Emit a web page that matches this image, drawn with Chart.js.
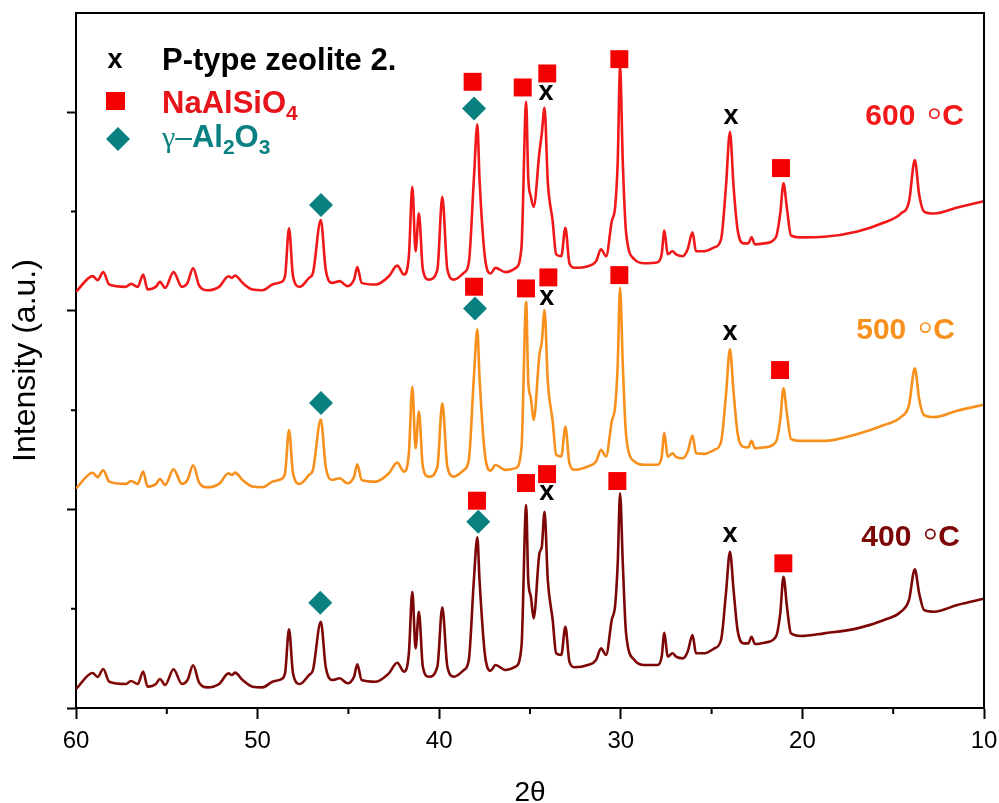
<!DOCTYPE html>
<html>
<head>
<meta charset="utf-8">
<title>XRD patterns</title>
<script src="https://cdn.jsdelivr.net/npm/chart.js@4.4.1/dist/chart.umd.min.js"></script>
<style>
  html, body { margin: 0; padding: 0; background: #fff; }
  canvas { display: block; }
</style>
</head>
<body>
<canvas id="xrd" width="999" height="803"></canvas>
<script>
// 2-theta positions shared by the three patterns (peaks, shoulders and valleys)
const twoTheta = [
  60.00, 59.08, 58.81, 58.50, 58.17, 57.25, 56.97, 56.60, 56.30, 56.06,
  55.60, 55.38, 55.09, 54.63, 54.17, 53.86, 53.55, 53.22, 52.76, 52.12,
  51.60, 51.42, 51.24, 50.83, 50.28, 49.73, 49.18, 48.72, 48.49, 48.27,
  48.05, 47.68, 47.17, 46.95, 46.52, 46.25, 45.88, 45.48, 45.06, 44.69,
  44.51, 44.27, 43.50, 42.77, 42.31, 41.94, 41.67, 41.48, 41.30, 41.12,
  40.90, 40.57, 40.10, 39.83, 39.55, 39.19, 38.64, 38.37, 38.09, 37.90,
  37.78, 37.49, 37.17, 36.90, 36.35, 35.80, 35.47, 35.21, 35.10, 34.95,
  34.80, 34.48, 34.35, 34.20, 34.02, 33.75, 33.56, 33.28, 33.05, 32.83,
  32.55, 31.82, 31.36, 31.09, 30.81, 30.50, 30.31, 30.17, 30.04, 29.89,
  29.71, 29.25, 28.70, 27.97, 27.75, 27.60, 27.42, 27.15, 26.96, 26.59,
  26.32, 26.05, 25.86, 25.40, 24.85, 24.48, 24.21, 23.99, 23.79, 23.57,
  23.24, 22.98, 22.80, 22.61, 22.10, 21.46, 21.22, 21.04, 20.85, 20.63,
  20.08, 18.80, 16.97, 15.50, 14.58, 14.13, 13.81, 13.57, 13.30, 12.75,
  11.47, 10.00
];

const int400 = [
   191,  352,  312,  393,  265,  242,  272,  242,  366,  215,
   242,  292,  232,  390,  242,  282,  430,  255,  208,  242,
   349,  332,  356,  282,  215,  208,  265,  289,  349,  792,
   349,  242,  332,  383,  869,  416,  282,  299,  249,  315,
   440,  282,  265,  349,  456,  366,  551, 1171,  601,  970,
   416,  315,  416, 1014,  416,  315,  383,  483, 1289, 1719,
  1289,  551,  376,  433,  383,  416,  617, 2044, 1300, 1120,
   903, 1558, 1624, 1977, 1289,  886,  551,  534,  819,  466,
   410,  433,  483,  601,  534,  886, 1037, 1457, 2162, 1457,
   752,  483,  433,  433,  517,  758,  517,  551,  517,  500,
   567,  735,  551,  551,  601,  685, 1155, 1574, 1188,  785,
   651,  651,  718,  644,  658,  718,  953, 1322, 1020,  752,
   725,  752,  802,  886,  970, 1088, 1397, 1155,  987,  970,
  1037, 1100
];

const int500 = [
  2212, 2370, 2325, 2395, 2280, 2257, 2287, 2257, 2381, 2230,
  2257, 2307, 2247, 2405, 2257, 2297, 2445, 2270, 2223, 2257,
  2364, 2347, 2371, 2297, 2230, 2223, 2280, 2304, 2364, 2800,
  2364, 2257, 2347, 2398, 2905, 2431, 2297, 2314, 2264, 2330,
  2455, 2297, 2280, 2364, 2471, 2381, 2566, 3235, 2616, 2985,
  2431, 2330, 2431, 3068, 2431, 2330, 2398, 2498, 3330, 3813,
  3330, 2566, 2391, 2448, 2398, 2416, 2617, 4092, 3300, 3120,
  2900, 3560, 3689, 4008, 3289, 2886, 2551, 2534, 2833, 2466,
  2400, 2433, 2483, 2601, 2534, 2886, 3037, 3460, 4236, 3460,
  2752, 2483, 2450, 2450, 2530, 2770, 2530, 2565, 2530, 2515,
  2580, 2745, 2565, 2560, 2600, 2680, 3150, 3612, 3180, 2770,
  2630, 2625, 2690, 2615, 2625, 2680, 2900, 3219, 2960, 2710,
  2690, 2690, 2760, 2850, 2930, 3050, 3421, 3110, 2950, 2930,
  2995, 3055
];

const int600 = [
  4192, 4350, 4310, 4390, 4265, 4242, 4272, 4242, 4366, 4215,
  4242, 4292, 4232, 4390, 4242, 4282, 4430, 4255, 4208, 4242,
  4349, 4332, 4356, 4282, 4215, 4208, 4265, 4289, 4349, 4831,
  4349, 4242, 4332, 4383, 4914, 4416, 4282, 4299, 4249, 4315,
  4440, 4282, 4265, 4349, 4456, 4366, 4551, 5250, 4601, 4982,
  4416, 4315, 4416, 5149, 4416, 4315, 4383, 4483, 5330, 5878,
  5330, 4551, 4376, 4433, 4390, 4430, 4640, 6106, 5350, 5150,
  5048, 5600, 5787, 6045, 5300, 4900, 4570, 4550, 4837, 4480,
  4434, 4450, 4500, 4620, 4550, 4900, 5050, 5500, 6450, 5500,
  4790, 4520, 4480, 4490, 4570, 4810, 4570, 4600, 4570, 4550,
  4620, 4790, 4600, 4600, 4640, 4720, 5250, 5803, 5250, 4820,
  4680, 4680, 4740, 4670, 4680, 4740, 4980, 5284, 5030, 4760,
  4740, 4746, 4800, 4890, 4980, 5100, 5518, 5170, 5000, 4980,
  5040, 5105
];

// phase markers (600, 500, 400 °C rows)
const naAlSiO4Theta = [38.16, 35.40, 34.05, 30.08, 21.18, 38.08, 35.22, 33.99, 30.08, 21.23, 37.92, 35.22, 34.06, 30.19, 21.05];
const naAlSiO4Y     = [6307, 6250, 6391, 6535, 5438, 4243, 4226, 4337, 4360, 3404, 2088, 2266, 2356, 2286, 1457];
const aluminaTheta  = [38.08, 46.51, 38.03, 46.51, 37.85, 46.55];
const aluminaY      = [6039, 5065, 4025, 3071, 1876, 1060];
const zeoliteTheta  = [34.12, 23.93, 34.08, 23.99, 34.08, 23.99];
const zeoliteY      = [6190, 5951, 4126, 3776, 2162, 1742];

// temperature labels, right edge anchored
const tempText  = ['600', '500', '400'];
const tempTheta = [11.10, 11.60, 11.32];
const tempY     = [5951, 3796, 1717];

const xTicks = [60, 50, 40, 30, 20, 10];
const xMinorTicks = [55, 45, 35, 25, 15];
const yTicks = [0, 2000, 4000, 6000];
const yMinorTicks = [1000, 3000, 5000];

const RED = '#f01818';
const ORANGE = '#f7901c';
const DARKRED = '#7d0606';
const SQUARE_RED = '#f50000';
const TEAL = '#0a8080';
const SANS = '"Liberation Sans", Arial, sans-serif';

const toPoints = (xs, ys) => xs.map((t, i) => ({ x: t, y: ys[i] }));

function drawParts(ctx, parts, x, y) {
    parts.forEach(p => {
        ctx.font = p.font;
        ctx.fillText(p.text, x, y + (p.dy || 0));
        x += ctx.measureText(p.text).width;
    });
}

const framePlugin = {
    id: 'frame',
    afterDraw(chart) {
        const { ctx, chartArea: a, scales: { x, y } } = chart;
        ctx.save();
        ctx.strokeStyle = '#000';
        ctx.lineWidth = 2;
        ctx.beginPath();
        ctx.moveTo(a.left, a.top);
        ctx.lineTo(a.right, a.top);
        ctx.lineTo(a.right, a.bottom);
        xMinorTicks.forEach(v => {
            const px = x.getPixelForValue(v);
            ctx.moveTo(px, a.bottom);
            ctx.lineTo(px, a.bottom + 6);
        });
        yMinorTicks.forEach(v => {
            const py = y.getPixelForValue(v);
            ctx.moveTo(a.left, py);
            ctx.lineTo(a.left - 5, py);
        });
        ctx.stroke();
        ctx.restore();
    }
};

const labelPlugin = {
    id: 'labels',
    afterDatasetsDraw(chart) {
        const { ctx, chartArea: a, scales: { x, y } } = chart;
        ctx.save();

        // "x" marks for P-type zeolite
        ctx.fillStyle = '#000';
        ctx.font = 'bold 27px ' + SANS;
        ctx.textAlign = 'center';
        ctx.textBaseline = 'alphabetic';
        zeoliteTheta.forEach((t, i) => {
            ctx.fillText('x', x.getPixelForValue(t), y.getPixelForValue(zeoliteY[i]) + 7);
        });

        // temperature labels: number, small ring, C
        const tempColors = [RED, ORANGE, DARKRED];
        ctx.textAlign = 'right';
        ctx.textBaseline = 'middle';
        ctx.font = 'bold 30px ' + SANS;
        const cw = ctx.measureText('C').width;
        tempText.forEach((s, i) => {
            const rx = x.getPixelForValue(tempTheta[i]);
            const cy = y.getPixelForValue(tempY[i]);
            ctx.fillStyle = tempColors[i];
            ctx.strokeStyle = tempColors[i];
            ctx.fillText('C', rx, cy);
            ctx.lineWidth = 1.7;
            ctx.beginPath();
            ctx.arc(rx - cw - 8, cy - 3.5, 4.6, 0, Math.PI * 2);
            ctx.stroke();
            ctx.fillText(s, rx - cw - 27, cy);
        });

        // legend
        const lx = a.left + 39, tx = a.left + 86;
        ctx.textBaseline = 'alphabetic';
        ctx.fillStyle = '#000';
        ctx.font = 'bold 27px ' + SANS;
        ctx.textAlign = 'center';
        ctx.fillText('x', lx, 68);
        ctx.textAlign = 'left';
        ctx.font = 'bold 31px ' + SANS;
        ctx.fillText('P-type zeolite 2.', tx, 70);

        ctx.fillStyle = SQUARE_RED;
        ctx.fillRect(lx - 9, 92, 19, 18);
        ctx.fillStyle = '#e8141c';
        drawParts(ctx, [
            { text: 'NaAlSiO', font: 'bold 31px ' + SANS },
            { text: '4', font: 'bold 21px ' + SANS, dy: 7 }
        ], tx, 113);

        ctx.fillStyle = TEAL;
        ctx.beginPath();
        ctx.moveTo(lx + 3 - 12, 139);
        ctx.lineTo(lx + 3, 127);
        ctx.lineTo(lx + 3 + 12, 139);
        ctx.lineTo(lx + 3, 151);
        ctx.closePath();
        ctx.fill();
        drawParts(ctx, [
            { text: 'γ', font: '30px "Liberation Serif", serif' },
            { text: '–', font: '30px ' + SANS },
            { text: 'Al', font: 'bold 31px ' + SANS },
            { text: '2', font: 'bold 21px ' + SANS, dy: 7 },
            { text: 'O', font: 'bold 31px ' + SANS },
            { text: '3', font: 'bold 21px ' + SANS, dy: 7 }
        ], tx, 147);

        ctx.restore();
    }
};

const lineStyle = color => ({
    borderColor: color,
    borderWidth: 2.6,
    pointRadius: 0,
    cubicInterpolationMode: 'monotone',
    fill: false,
    order: 1
});

new Chart(document.getElementById('xrd'), {
    type: 'line',
    data: {
        datasets: [
            {
                label: 'NaAlSiO4',
                data: toPoints(naAlSiO4Theta, naAlSiO4Y),
                showLine: false,
                pointStyle: 'rect',
                pointRadius: 12.7,
                backgroundColor: SQUARE_RED,
                borderWidth: 0,
                order: 0
            },
            {
                label: 'γ-Al2O3',
                data: toPoints(aluminaTheta, aluminaY),
                showLine: false,
                pointStyle: 'rectRot',
                pointRadius: 12,
                backgroundColor: TEAL,
                borderWidth: 0,
                order: 0
            },
            { label: '600 °C', data: toPoints(twoTheta, int600), ...lineStyle(RED) },
            { label: '500 °C', data: toPoints(twoTheta, int500), ...lineStyle(ORANGE) },
            { label: '400 °C', data: toPoints(twoTheta, int400), ...lineStyle(DARKRED) }
        ]
    },
    options: {
        responsive: false,
        animation: false,
        events: [],
        layout: { padding: { top: 13, right: 15, left: 0, bottom: 0 } },
        scales: {
            x: {
                type: 'linear',
                reverse: true,
                min: 10,
                max: 60,
                afterBuildTicks: s => { s.ticks = xTicks.map(v => ({ value: v })); },
                afterFit: s => { s.height = 95; s.paddingLeft = 0; s.paddingRight = 0; },
                ticks: {
                    font: { family: SANS, size: 24 },
                    color: '#000',
                    padding: 8,
                    maxRotation: 0,
                    autoSkip: false
                },
                grid: { drawOnChartArea: false, tickLength: 11, tickWidth: 2, tickColor: '#000' },
                border: { color: '#000', width: 2 },
                title: {
                    display: true,
                    text: '2θ',
                    color: '#000',
                    font: { family: SANS, size: 28, lineHeight: 0.7 },
                    padding: { top: 0, bottom: 0 }
                }
            },
            y: {
                type: 'linear',
                min: 0,
                max: 7000,
                afterBuildTicks: s => { s.ticks = yTicks.map(v => ({ value: v })); },
                afterFit: s => { s.width = 76; },
                ticks: { display: false },
                grid: { drawOnChartArea: false, tickLength: 9, tickWidth: 2, tickColor: '#000' },
                border: { color: '#000', width: 2 },
                title: {
                    display: true,
                    text: 'Intensity (a.u.)',
                    color: '#000',
                    font: { family: SANS, size: 32, lineHeight: 1 },
                    padding: { top: 10, bottom: 0 }
                }
            }
        },
        plugins: {
            legend: { display: false },
            tooltip: { enabled: false }
        }
    },
    plugins: [framePlugin, labelPlugin]
});
</script>
</body>
</html>
